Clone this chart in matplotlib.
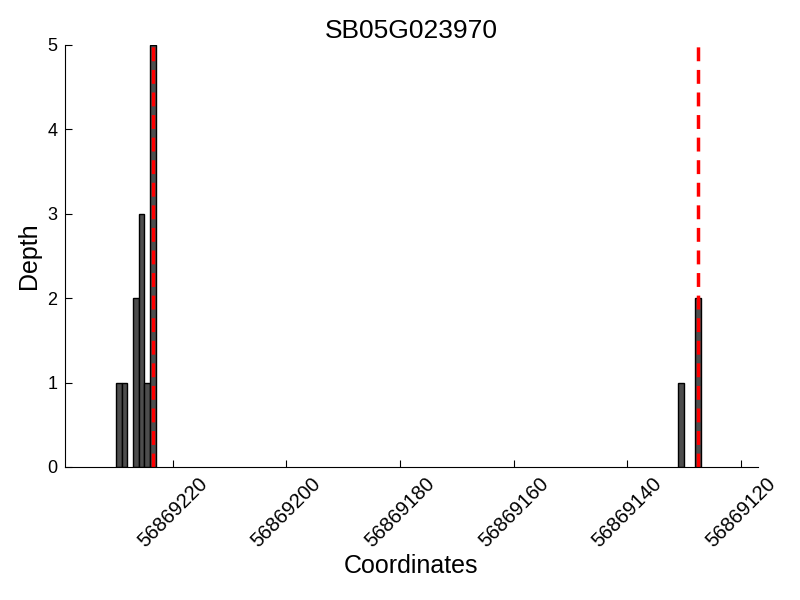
import matplotlib
matplotlib.use("Agg")
import matplotlib.pyplot as plt

# read depth per coordinate
positions = [56869229, 56869228, 56869226, 56869225, 56869224, 56869223,
             56869130, 56869127]
depths = [1, 1, 2, 3, 1, 5, 1, 2]
# sites marked with the red dashed line
sites = [56869223.5, 56869127.5]
ticks = [56869220, 56869200, 56869180, 56869160, 56869140, 56869120]

plt.rcParams['font.family'] = ['Liberation Sans', 'DejaVu Sans']

fig = plt.figure(figsize=(8, 6), dpi=100)
ax = fig.add_axes([0.081, 0.2217, 0.8665, 0.7033])

ax.bar(positions, depths, width=1, align='edge', color='#4d4d4d',
       edgecolor='black', linewidth=1)
for s in sites:
    ax.axvline(s, color='red', linestyle='--', linewidth=2.5, dashes=(4, 2.5))

ax.set_xlim(min(positions) - 10, max(positions) + 10)
ax.invert_xaxis()
ax.set_ylim(0, 5)
ax.set_xticks(ticks)
ax.set_xticklabels([str(t) for t in ticks], rotation=45, fontsize=14.5)
ax.set_yticks(range(6))
ax.tick_params(axis='y', labelsize=13, pad=5.5)
ax.tick_params(axis='x', pad=5)
ax.tick_params(direction='in', length=5, top=False, right=False)
ax.spines['top'].set_visible(False)
ax.spines['right'].set_visible(False)

ax.set_title("SB05G023970", fontsize=19, pad=5)
ax.set_xlabel("Coordinates", fontsize=18, labelpad=2)
ax.set_ylabel("Depth", fontsize=18, labelpad=4)

fig.savefig("out.png", dpi=100)
